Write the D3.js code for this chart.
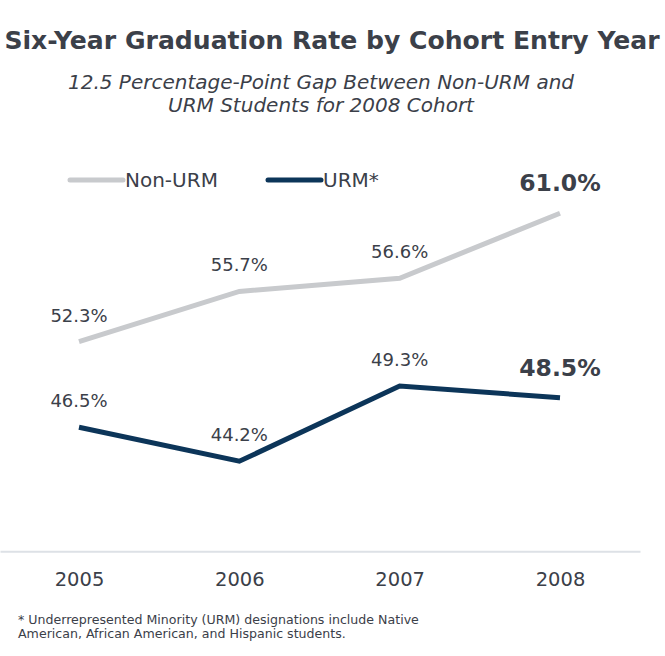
<!DOCTYPE html>
<html><head><meta charset="utf-8">
<script src="https://cdn.jsdelivr.net/npm/d3@7"></script>
<style>body{margin:0;background:#fff}svg{display:block}text{font-family:"DejaVu Sans",Verdana,sans-serif;fill:#3b4049}</style>
</head><body><svg id="c" width="665" height="656"></svg>
<script>
const years = ["2005","2006","2007","2008"];
const nonURM = [52.3, 55.7, 56.6, 61.0];
const urm = [46.5, 44.2, 49.3, 48.5];
const seriesNames = ["Non-URM","URM*"];
const colors = ["#c8cacd","#0c3559"];

const svg = d3.select("#c");
const x = d3.scalePoint().domain(years).range([79, 560]);
const y = d3.scaleLinear().domain([38.1, 65]).range([551.3, 154.2]);

svg.append("text").attr("x",332).attr("y",49).attr("text-anchor","middle")
  .style("font-size","25.1px").style("font-weight","bold").text("Six-Year Graduation Rate by Cohort Entry Year");
svg.append("text").attr("x",321).attr("y",89).attr("text-anchor","middle")
  .style("font-size","20px").style("font-style","italic").text("12.5 Percentage-Point Gap Between Non-URM and");
svg.append("text").attr("x",321).attr("y",112).attr("text-anchor","middle")
  .style("font-size","20px").style("font-style","italic").text("URM Students for 2008 Cohort");

// baseline axis
svg.append("g").attr("transform",`translate(0,${y(38.1)})`)
  .call(d3.axisBottom(d3.scaleLinear().range([0,640])).ticks(0).tickSize(0))
  .call(g=>g.select(".domain").attr("stroke","#dde1e6").attr("stroke-width",2));
svg.append("g").attr("transform",`translate(0,${y(38.1)})`)
  .call(d3.axisBottom(x).tickSize(0).tickPadding(21))
  .call(g=>g.select(".domain").remove())
  .call(g=>g.selectAll("text").style("font-size","19.5px").attr("fill","#3b4049").style("font-family","DejaVu Sans, sans-serif"));

const line = d3.line().x((d,i)=>x(years[i])).y(d=>y(d));
[nonURM, urm].forEach((s,k)=>{
  svg.append("path").datum(s).attr("d",line).attr("fill","none")
    .attr("stroke",colors[k]).attr("stroke-width",5).attr("stroke-linejoin","miter");
  svg.selectAll(null).data(s).enter().append("text")
    .attr("x",(d,i)=>x(years[i])).attr("y",(d,i)=> y(d) - (i===3?22:20))
    .attr("text-anchor","middle")
    .style("font-size",(d,i)=> i===3?"23.5px":"18px")
    .style("font-weight",(d,i)=> i===3?"bold":"normal")
    .text(d=>d.toFixed(1)+"%");
});

// legend
const lg = [{x:70,t:seriesNames[0],c:colors[0]},{x:268,t:seriesNames[1],c:colors[1]}];
lg.forEach(l=>{
  svg.append("line").attr("x1",l.x).attr("x2",l.x+53).attr("y1",180).attr("y2",180)
    .attr("stroke",l.c).attr("stroke-width",5).attr("stroke-linecap","round");
  svg.append("text").attr("x",l.x+55).attr("y",187).style("font-size","20px").text(l.t);
});

svg.append("text").attr("x",18).attr("y",624).style("font-size","12.6px")
  .text("* Underrepresented Minority (URM) designations include Native");
svg.append("text").attr("x",18).attr("y",638).style("font-size","12.6px")
  .text("American, African American, and Hispanic students.");
</script></body></html>
